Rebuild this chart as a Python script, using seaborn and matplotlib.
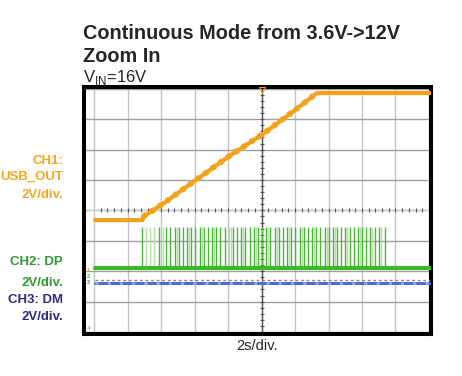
import numpy as np
import pandas as pd
import matplotlib
matplotlib.use("Agg")
import matplotlib.pyplot as plt
import seaborn as sns

# all positions in scope divisions (10 x 8 grid, 0 at bottom-left)
ch1_x = [0.03, 1.45, 1.46, 2.05, 3.04, 4.04, 5.04, 6.00, 6.65, 10.03]
ch1_y = [3.68, 3.68, 3.79, 4.21, 5.00, 5.79, 6.51, 7.30, 7.86, 7.86]

ch2_base = 2.10
ch2_high = 3.44
ch2_pulses = [1.43, 1.93, 2.16, 2.28, 2.41, 2.53, 2.66, 2.78, 2.90, 3.02,
              3.16, 3.27, 3.40, 3.52, 3.65, 3.77, 3.90, 4.15, 4.27, 4.40,
              4.52, 4.65, 4.77, 4.90, 5.01, 5.14, 5.26, 5.39, 5.51, 5.64,
              5.76, 5.89, 6.01, 6.14, 6.26, 6.39, 6.51, 6.64, 6.76, 6.89,
              7.01, 7.13, 7.25, 7.38, 7.50, 7.63, 7.75, 7.88, 8.00, 8.13,
              8.25, 8.38, 8.50, 8.68]
ch2_faint = [1.55, 1.66, 1.80, 2.05, 2.47, 2.84, 3.21, 3.58, 4.02, 4.08,
             4.46, 4.83, 5.20, 5.45, 5.82, 6.20, 6.57, 6.95, 7.19, 7.56,
             7.94, 8.31, 8.58]

ch3_level = 1.62
ref_level = 1.70
span = [0.03, 10.03]

orange = '#f2a31b'
green = '#3cb82a'
blue = '#4a6cd8'

sns.set_theme(style="white")
plt.rcParams['font.family'] = ['Liberation Sans', 'DejaVu Sans']
plt.rcParams['mathtext.fontset'] = 'custom'
plt.rcParams['mathtext.rm'] = 'Liberation Sans'

fig = plt.figure(figsize=(4.62, 3.76), dpi=100)
ax = fig.add_axes([84 / 462, 42 / 376, 347 / 462, 247 / 376])
ax.set_xlim(-0.30, 10.06)
ax.set_ylim(-0.066, 8.06)

# graticule
for k in range(11):
    ax.axvline(k, color='#c4c4c4', lw=1, zorder=1)
for k in range(9):
    ax.axhline(k, color='#a0a0a0', lw=1, zorder=1)
ax.axhline(4, color='#d0d0d0', lw=1, zorder=1.2)
ax.axvline(5, color='#555555', lw=1, zorder=1.5)
minor_y = np.arange(0.2, 8, 0.2)
minor_x = np.arange(0.2, 10, 0.2)
ax.plot(np.full_like(minor_y, 5), minor_y, ls='none', marker='_', ms=3, color='#555555', mew=0.8, zorder=1.6)
ax.plot(minor_x, np.full_like(minor_x, 4), ls='none', marker='|', ms=3, color='#555555', mew=0.8, zorder=1.6)

# CH1 USB_OUT
df1 = pd.DataFrame({'x': ch1_x, 'y': ch1_y})
sns.lineplot(data=df1, x='x', y='y', ax=ax, color=orange, lw=3, sort=False, zorder=5)
ax.plot(ch1_x[2:-1], ch1_y[2:-1], color=orange, lw=4.2, dashes=(0.7, 0.9), solid_capstyle='butt', zorder=5)

# CH2 DP
ax.vlines(ch2_faint, ch2_base, ch2_high, color='#b5e0a8', lw=1, zorder=3)
ax.vlines(ch2_pulses, ch2_base, ch2_high, color='#4cb638', lw=1, zorder=3.5)
df2 = pd.DataFrame({'x': span, 'y': [ch2_base] * 2})
sns.lineplot(data=df2, x='x', y='y', ax=ax, color=green, lw=3, zorder=4)

# CH3 DM and reference trace
ax.plot(span, [ref_level] * 2, color='#b07878', lw=1, dashes=(2, 2), zorder=3)
df3 = pd.DataFrame({'x': span, 'y': [ch3_level] * 2})
sns.lineplot(data=df3, x='x', y='y', ax=ax, color=blue, lw=2.2, zorder=4)
ax.plot(span, [ch3_level] * 2, color='#8fa5ee', lw=2.2, dashes=(1, 3), zorder=4.1)

# ground / trigger markers
ax.text(-0.17, 2.02, '1', color=orange, fontsize=4, ha='center', va='center', fontweight='bold')
ax.text(-0.17, 1.82, '2', color=green, fontsize=4, ha='center', va='center', fontweight='bold')
ax.text(-0.17, 1.62, '3', color=blue, fontsize=4, ha='center', va='center', fontweight='bold')
ax.text(-0.17, 0.13, '4', color=blue, fontsize=4, ha='center', va='center')
ax.plot([5], [7.96], marker='v', ms=4, color=orange, mfc='none', mew=0.8, zorder=6)

ax.set_xticks([])
ax.set_yticks([])
ax.set_xlabel('')
ax.set_ylabel('')
for s in ax.spines.values():
    s.set_visible(True)
    s.set_color('black')
    s.set_linewidth(2.9)

# titles
fig.text(83 / 462, 1 - 39 / 376, 'Continuous Mode from 3.6V->12V', fontsize=14.3, fontweight='bold', va='baseline', ha='left')
fig.text(83 / 462, 1 - 62 / 376, 'Zoom In', fontsize=14.3, fontweight='bold', va='baseline', ha='left')
fig.text(83 / 462, 1 - 82 / 376, r'V$_{\mathrm{IN}}$=16V', fontsize=12, va='baseline', ha='left')

# channel labels
labels = [('CH1:', 164, '#f5a623'), ('USB_OUT', 180, '#f5a623'), ('2V/div.', 198, '#f5a623'),
          ('CH2: DP', 265, '#2f9a2f'), ('2V/div.', 286, '#2f9a2f'),
          ('CH3: DM', 303, '#2b2b8c'), ('2V/div.', 320, '#2b2b8c')]
for txt, ypx, col in labels:
    fig.text(63 / 462, 1 - ypx / 376, txt, fontsize=9.5, fontweight='bold', color=col, ha='right', va='baseline')

fig.text(257 / 462, 1 - 350 / 376, '2s/div.', fontsize=10.5, ha='center', va='baseline')

fig.savefig('out.png', dpi=100)
